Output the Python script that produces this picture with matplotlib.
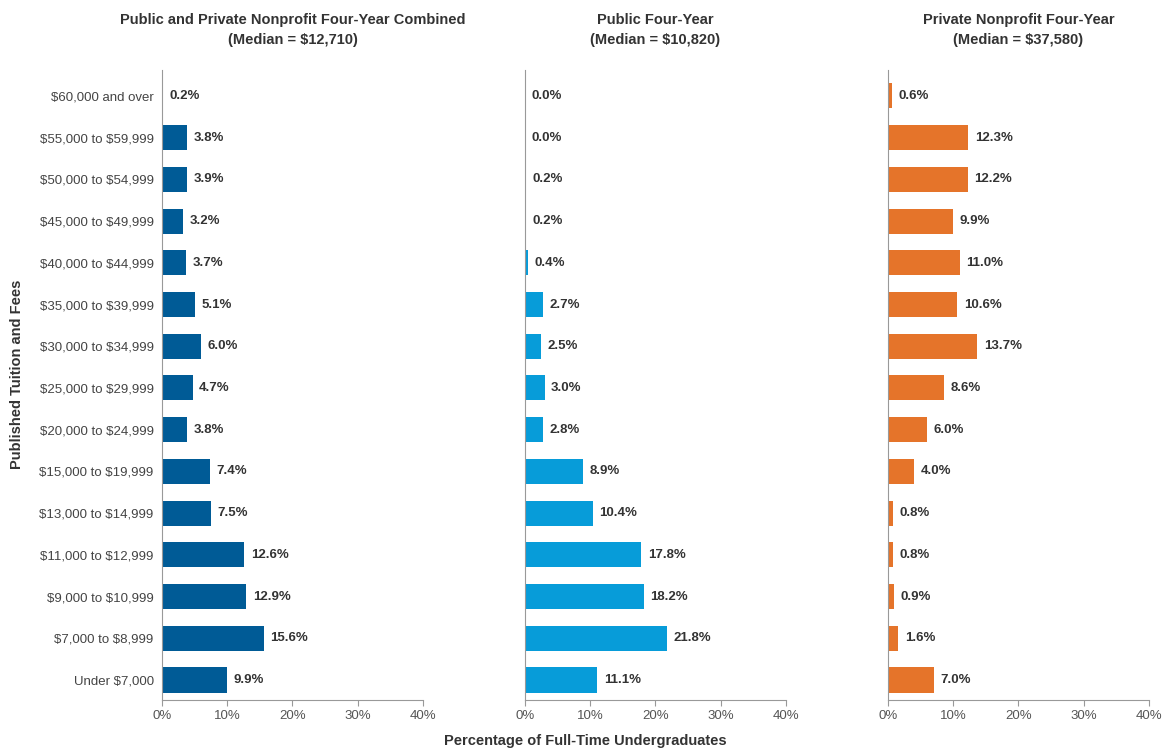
import matplotlib.pyplot as plt
from matplotlib.ticker import FuncFormatter

plt.rcParams['font.family'] = ['Liberation Sans Narrow', 'Liberation Sans', 'DejaVu Sans']
plt.rcParams['text.parse_math'] = False

# categories top to bottom
brackets = ["$60,000 and over", "$55,000 to $59,999", "$50,000 to $54,999",
            "$45,000 to $49,999", "$40,000 to $44,999", "$35,000 to $39,999",
            "$30,000 to $34,999", "$25,000 to $29,999", "$20,000 to $24,999",
            "$15,000 to $19,999", "$13,000 to $14,999", "$11,000 to $12,999",
            "$9,000 to $10,999", "$7,000 to $8,999", "Under $7,000"]

combined = [0.2, 3.8, 3.9, 3.2, 3.7, 5.1, 6.0, 4.7, 3.8, 7.4, 7.5, 12.6, 12.9, 15.6, 9.9]
public = [0.0, 0.0, 0.2, 0.2, 0.4, 2.7, 2.5, 3.0, 2.8, 8.9, 10.4, 17.8, 18.2, 21.8, 11.1]
private = [0.6, 12.3, 12.2, 9.9, 11.0, 10.6, 13.7, 8.6, 6.0, 4.0, 0.8, 0.8, 0.9, 1.6, 7.0]

titles = ["Public and Private Nonprofit Four-Year Combined\n(Median = $12,710)",
          "Public Four-Year\n(Median = $10,820)",
          "Private Nonprofit Four-Year\n(Median = $37,580)"]
colors = ["#005b96", "#079cd9", "#e5742a"]
ticks = [0, 10, 20, 30, 40]

fig = plt.figure(figsize=(11.63, 7.49), dpi=100)
lefts = [0.1393, 0.4514, 0.7635]
text_c = "#333333"
spine_c = "#999999"

n = len(brackets)
ypos = list(range(n - 1, -1, -1))

for i, (vals, title, col) in enumerate(zip([combined, public, private], titles, colors)):
    ax = fig.add_axes([lefts[i], 0.0654, 0.2244, 0.8411])
    ax.barh(ypos, vals, height=0.6, color=col)
    for y, v in zip(ypos, vals):
        ax.text(v + 1.0, y, f"{v:.1f}%", va='center', ha='left',
                fontsize=9.5, fontweight='bold', color=text_c)
    ax.set_xlim(0, 40)
    ax.set_ylim(-0.48, n - 1 + 0.62)
    ax.set_xticks(ticks)
    ax.xaxis.set_major_formatter(FuncFormatter(lambda x, p: f"{x:.0f}%"))
    ax.tick_params(axis='x', colors="#555555", labelsize=9.5, length=4, color=spine_c)
    if i == 0:
        ax.set_yticks(ypos)
        ax.set_yticklabels(brackets)
        ax.tick_params(axis='y', length=0, labelsize=9.5, colors="#444444", pad=6)
    else:
        ax.set_yticks([])
    for s in ['top', 'right']:
        ax.spines[s].set_visible(False)
    for s in ['left', 'bottom']:
        ax.spines[s].set_color(spine_c)
    fig.text(lefts[i] + 0.2244 / 2, 0.982, title, ha='center', va='top',
             fontsize=10.5, fontweight='bold', color=text_c, linespacing=1.5)

fig.text(0.015, 0.5, "Published Tuition and Fees", rotation=90, ha='center', va='center',
         fontsize=10.5, fontweight='bold', color=text_c)
fig.text(0.503, 0.002, "Percentage of Full-Time Undergraduates", ha='center', va='bottom',
         fontsize=10.5, fontweight='bold', color=text_c)

fig.savefig("out.png", dpi=100)
